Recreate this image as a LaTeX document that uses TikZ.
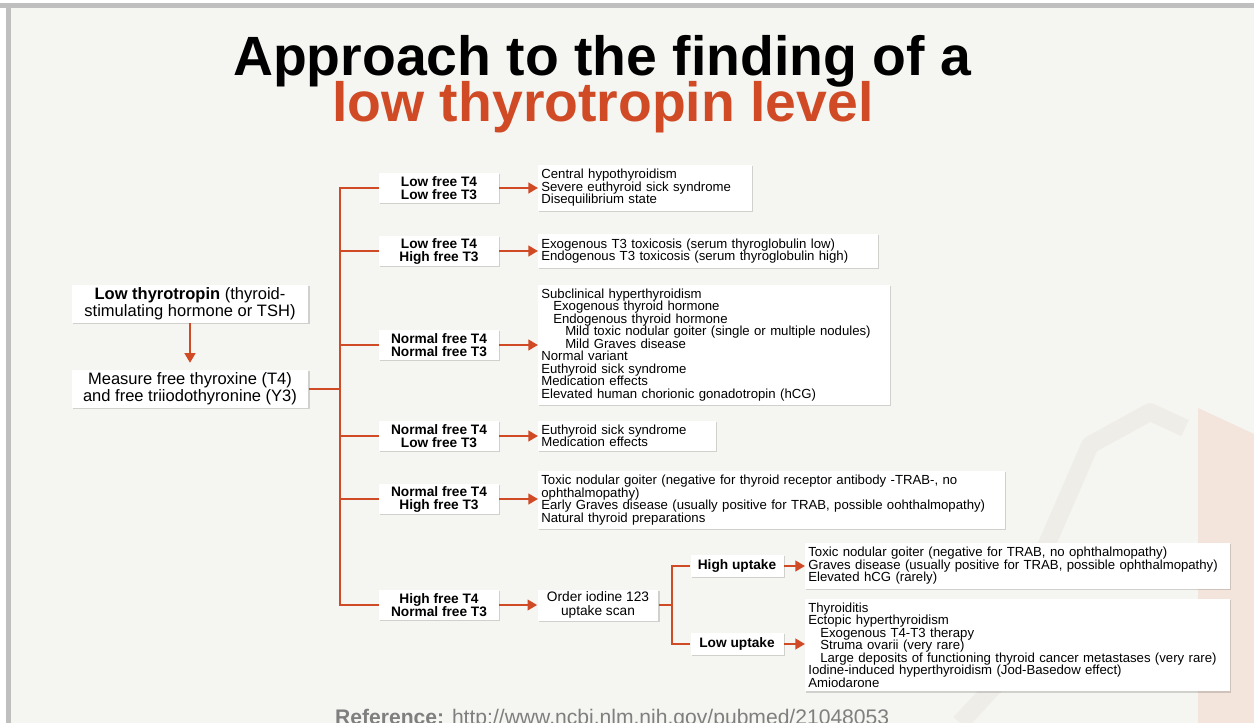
\documentclass[tikz,border=0pt]{standalone}
\usepackage{fontspec}
\setmainfont{Liberation Sans}
\usetikzlibrary{arrows.meta,shadows}
\definecolor{thyorange}{HTML}{D04A26}
\definecolor{slidebg}{HTML}{F5F5F1}
\definecolor{framegray}{HTML}{BFBFBF}
\definecolor{refgray}{HTML}{7F7F7F}
\definecolor{wmgray}{HTML}{EFEDE8}
\definecolor{wmpink}{HTML}{F3E4DC}
\newcommand{\lvlone}{\hspace*{6.8pt}}
\newcommand{\lvltwo}{\hspace*{13.6pt}}

\begin{document}
\begin{tikzpicture}[x=0.02cm,y=-0.02cm,
  boxshadow/.style={drop shadow={shadow xshift=0.6pt,shadow yshift=-0.6pt,opacity=0.15,fill=black}},
  leftbox/.style={fill=white,boxshadow,align=center,inner sep=1pt,
    minimum width=4.74cm,minimum height=0.75cm,font=\fontsize{9.4}{8.2}\selectfont},
  condbox/.style={fill=white,boxshadow,align=center,inner sep=1pt,
    minimum width=2.4cm,minimum height=0.6cm,font=\fontsize{7.8}{7.4}\selectfont\bfseries},
  resbox/.style={fill=white,boxshadow,anchor=west,align=left,inner xsep=0.06cm,inner ysep=2.4pt,
    text width=#1,font=\fontsize{7.5}{7.1}\selectfont},
  link/.style={draw=thyorange,line width=1.5pt},
  arr/.style={link,-{Triangle[length=5.5pt,width=6pt]}}]
  \fill[white] (0,0) rectangle (1254,723);
  \fill[slidebg] (11,8) rectangle (1254,723);
  \fill[framegray] (0,3) rectangle (1254,8);
  \fill[framegray] (6,3) rectangle (11,723);
  \useasboundingbox (0,0) rectangle (1254,723);
  \fill[wmpink] (1198,408) -- (1254,434) -- (1254,723) -- (1198,723) -- cycle;
  \draw[wmgray,line width=10pt,line join=round] (960,723) -- (1000,680);
  \draw[wmgray,line width=10pt,line join=round] (1040,560) -- (1090,445) -- (1150,412) -- (1185,428);

  \node[font=\fontsize{31.5}{25}\selectfont\bfseries,anchor=base] (title) at (602,76) {Approach to the finding of a};
  \node[font=\fontsize{31.5}{25}\selectfont\bfseries,text=thyorange,anchor=base] (subtitle) at (603,122) {low thyrotropin level};

  \node[leftbox] (tsh) at (190,304) {\textbf{Low thyrotropin} (thyroid-\\stimulating hormone or TSH)};
  \node[leftbox] (measure) at (190,389) {Measure free thyroxine (T4)\\and free triiodothyronine (Y3)};
  \draw[arr,shorten >=4pt] (tsh) -- (measure);

  \node[condbox] (c1) at (439,188) {Low free T4\\Low free T3};
  \node[condbox] (c2) at (439,251) {Low free T4\\High free T3};
  \node[condbox] (c3) at (439,345) {Normal free T4\\Normal free T3};
  \node[condbox] (c4) at (439,436) {Normal free T4\\Low free T3};
  \node[condbox] (c5) at (439,499) {Normal free T4\\High free T3};
  \node[condbox] (c6) at (439,605) {High free T4\\Normal free T3};

  \coordinate (trunk) at (340,389);
  \draw[link] (measure.east) -- (trunk);
  \foreach \n in {c1,c2,c3,c4,c5,c6}
    \draw[link] (trunk) |- (\n.west);

  \node[resbox=4.16cm] (r1) at (538,188) {Central hypothyroidism\\Severe euthyroid sick syndrome\\Disequilibrium state};
  \node[resbox=6.68cm] (r2) at (538,251) {Exogenous T3 toxicosis (serum thyroglobulin low)\\Endogenous T3 toxicosis (serum thyroglobulin high)};
  \node[resbox=6.92cm] (r3) at (538,345) {Subclinical hyperthyroidism\\\lvlone Exogenous thyroid hormone\\\lvlone Endogenous thyroid hormone\\\lvltwo Mild toxic nodular goiter (single or multiple nodules)\\\lvltwo Mild Graves disease\\Normal variant\\Euthyroid sick syndrome\\Medication effects\\Elevated human chorionic gonadotropin (hCG)};
  \node[resbox=3.44cm] (r4) at (538,436) {Euthyroid sick syndrome\\Medication effects};
  \node[resbox=9.22cm] (r5) at (538,500) {Toxic nodular goiter (negative for thyroid receptor antibody -TRAB-, no\\ophthalmopathy)\\Early Graves disease (usually positive for TRAB, possible oohthalmopathy)\\Natural thyroid preparations};
  \foreach \i in {1,...,5}
    \draw[arr] (c\i.east) -- (c\i.east -| r\i.west);

  \node[condbox,font=\fontsize{7.8}{7.6}\selectfont,minimum width=2.42cm,minimum height=0.62cm] (scan) at (598,605) {Order iodine 123\\uptake scan};
  \draw[arr] (c6.east) -- (scan.west);
  \node[condbox,minimum width=1.86cm,minimum height=0.44cm] (hi) at (737,566) {High uptake};
  \node[condbox,minimum width=1.86cm,minimum height=0.44cm] (lo) at (737,644) {Low uptake};
  \coordinate (fork) at (672,605);
  \draw[link] (scan.east) -- (fork);
  \draw[link] (fork) |- (hi.west);
  \draw[link] (fork) |- (lo.west);

  \node[resbox=8.38cm] (r6) at (805,566) {Toxic nodular goiter (negative for TRAB, no ophthalmopathy)\\Graves disease (usually positive for TRAB, possible ophthalmopathy)\\Elevated hCG (rarely)};
  \node[resbox=8.38cm] (r7) at (805,645) {Thyroiditis\\Ectopic hyperthyroidism\\\lvlone Exogenous T4-T3 therapy\\\lvlone Struma ovarii (very rare)\\\lvlone Large deposits of functioning thyroid cancer metastases (very rare)\\Iodine-induced hyperthyroidism (Jod-Basedow effect)\\Amiodarone};
  \draw[arr] (hi.east) -- (hi.east -| r6.west);
  \draw[arr] (lo.east) -- (lo.east -| r7.west);

  \node[anchor=base west,font=\fontsize{12}{14}\selectfont,text=refgray] (ref) at (329,724) {\textbf{Reference:} http://www.ncbi.nlm.nih.gov/pubmed/21048053};
\end{tikzpicture}
\end{document}
